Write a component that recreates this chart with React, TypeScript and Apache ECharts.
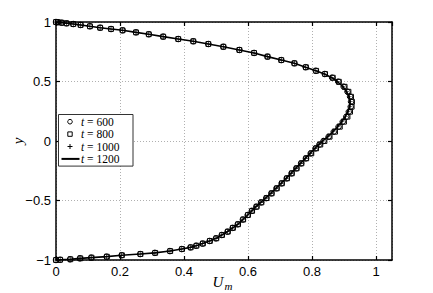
import React, { useEffect, useRef } from "react";
import * as echarts from "echarts";

const yPts = [1.0, 0.998, 0.994, 0.989, 0.983, 0.975, 0.964, 0.952, 0.941, 0.93, 0.913, 0.897, 0.877, 0.857, 0.838, 0.815, 0.792, 0.765, 0.74, 0.709, 0.68, 0.653, 0.62, 0.59, 0.563, 0.532, 0.498, 0.456, 0.414, 0.372, 0.33, 0.288, 0.246, 0.204, 0.162, 0.12, 0.078, 0.036, 0.0, -0.03, -0.062, -0.104, -0.146, -0.188, -0.23, -0.272, -0.314, -0.356, -0.398, -0.44, -0.48, -0.516, -0.552, -0.587, -0.622, -0.66, -0.7, -0.73, -0.762, -0.79, -0.818, -0.84, -0.862, -0.88, -0.894, -0.908, -0.925, -0.94, -0.95, -0.96, -0.972, -0.98, -0.986, -0.994, -0.998, -1.0];

const u1200 = [0.0, 0.006, 0.018, 0.033, 0.054, 0.077, 0.106, 0.138, 0.172, 0.208, 0.25, 0.29, 0.335, 0.382, 0.429, 0.476, 0.523, 0.573, 0.619, 0.661, 0.704, 0.745, 0.78, 0.812, 0.839, 0.862, 0.88, 0.897, 0.908, 0.916, 0.919, 0.918, 0.912, 0.904, 0.893, 0.88, 0.865, 0.849, 0.833, 0.821, 0.809, 0.794, 0.779, 0.764, 0.749, 0.734, 0.719, 0.703, 0.687, 0.671, 0.655, 0.64, 0.625, 0.612, 0.599, 0.584, 0.568, 0.552, 0.536, 0.518, 0.5, 0.48, 0.458, 0.438, 0.42, 0.393, 0.356, 0.309, 0.263, 0.205, 0.158, 0.11, 0.075, 0.044, 0.013, 0.0];

const u1000 = [0.0, 0.006, 0.018, 0.033, 0.054, 0.077, 0.106, 0.138, 0.172, 0.208, 0.25, 0.29, 0.335, 0.382, 0.429, 0.476, 0.523, 0.573, 0.619, 0.661, 0.704, 0.745, 0.78, 0.812, 0.839, 0.862, 0.88, 0.897, 0.909, 0.917, 0.92, 0.919, 0.913, 0.905, 0.894, 0.881, 0.866, 0.85, 0.834, 0.822, 0.81, 0.795, 0.78, 0.765, 0.75, 0.735, 0.72, 0.704, 0.688, 0.672, 0.656, 0.64, 0.625, 0.612, 0.599, 0.584, 0.568, 0.552, 0.536, 0.518, 0.5, 0.48, 0.458, 0.438, 0.42, 0.393, 0.356, 0.309, 0.263, 0.205, 0.158, 0.11, 0.075, 0.044, 0.013, 0.0];

const u800 = [0.0, 0.006, 0.018, 0.033, 0.054, 0.077, 0.106, 0.138, 0.172, 0.208, 0.25, 0.29, 0.335, 0.382, 0.429, 0.476, 0.523, 0.573, 0.619, 0.661, 0.704, 0.745, 0.781, 0.813, 0.841, 0.865, 0.884, 0.902, 0.914, 0.922, 0.925, 0.924, 0.919, 0.911, 0.9, 0.887, 0.872, 0.855, 0.839, 0.826, 0.813, 0.798, 0.782, 0.767, 0.752, 0.737, 0.722, 0.706, 0.69, 0.674, 0.658, 0.642, 0.627, 0.613, 0.6, 0.585, 0.569, 0.553, 0.537, 0.519, 0.501, 0.481, 0.459, 0.439, 0.421, 0.394, 0.357, 0.31, 0.264, 0.206, 0.159, 0.111, 0.076, 0.045, 0.013, 0.0];

const u600 = [0.0, 0.006, 0.018, 0.033, 0.054, 0.077, 0.106, 0.138, 0.172, 0.208, 0.25, 0.29, 0.335, 0.382, 0.429, 0.476, 0.523, 0.573, 0.619, 0.661, 0.704, 0.745, 0.78, 0.812, 0.84, 0.863, 0.882, 0.899, 0.911, 0.919, 0.922, 0.921, 0.915, 0.907, 0.896, 0.883, 0.868, 0.852, 0.836, 0.823, 0.811, 0.796, 0.781, 0.766, 0.751, 0.736, 0.721, 0.705, 0.689, 0.673, 0.657, 0.641, 0.626, 0.612, 0.599, 0.584, 0.568, 0.552, 0.536, 0.518, 0.5, 0.48, 0.458, 0.438, 0.42, 0.393, 0.356, 0.309, 0.263, 0.205, 0.158, 0.11, 0.075, 0.044, 0.013, 0.0];

const xTicks = [0, 0.2, 0.4, 0.6, 0.8, 1];
const legendLabels = ["600", "800", "1000", "1200"];

const PLUS = "path://M-0.14,-1H0.14V-0.14H1V0.14H0.14V1H-0.14V0.14H-1V-0.14H-0.14Z";

const pairs = (u: number[]) => u.map((v, i) => [v, yPts[i]]);
const fmt = (v: number) => {
  const r = Math.round(v * 100) / 100;
  const s = String(r);
  return s.replace("-", "\u2212");
};

const SERIF = "'Liberation Serif', 'DejaVu Serif', serif";
const SANS = "'Liberation Sans', Arial, Helvetica, sans-serif";

export default function App() {
  const ref = useRef<HTMLDivElement>(null);
  useEffect(() => {
    if (!ref.current) return;
    const chart = echarts.init(ref.current, null, { renderer: "svg" });
    const axisCommon = {
      type: "value" as const,
      axisLine: { show: true, onZero: false, lineStyle: { color: "#000", width: 1.5 } },
      axisTick: { show: true, inside: true, length: 4, lineStyle: { color: "#000", width: 1.2 } },
    };
    const top = 114.5;
    const lh = 12.4;
    const rowY = [0, 1, 2, 3].map((i) => top + 1 + lh * i + lh / 2);
    const legendGraphics: any[] = [
      {
        type: "rect",
        shape: { x: 58.5, y: top, width: 74.5, height: 4 * lh + 2 },
        style: { fill: "#fff", stroke: "#333", lineWidth: 1 },
        z: 100,
      },
      {
        type: "circle",
        shape: { cx: 70, cy: rowY[0], r: 2.3 },
        style: { fill: "none", stroke: "#000", lineWidth: 1 },
        z: 101,
      },
      {
        type: "rect",
        shape: { x: 67.8, y: rowY[1] - 2.2, width: 4.4, height: 4.4 },
        style: { fill: "none", stroke: "#000", lineWidth: 1 },
        z: 101,
      },
      {
        type: "line",
        shape: { x1: 67.5, y1: rowY[2], x2: 72.5, y2: rowY[2] },
        style: { stroke: "#000", lineWidth: 1 },
        z: 101,
      },
      {
        type: "line",
        shape: { x1: 70, y1: rowY[2] - 2.5, x2: 70, y2: rowY[2] + 2.5 },
        style: { stroke: "#000", lineWidth: 1 },
        z: 101,
      },
      {
        type: "line",
        shape: { x1: 61.5, y1: rowY[3], x2: 79.5, y2: rowY[3] },
        style: { stroke: "#000", lineWidth: 2 },
        z: 101,
      },
      ...legendLabels.map((lab, i) => ({
        type: "text",
        x: 81,
        y: rowY[i],
        z: 101,
        style: {
          text: `{i|t} = ${lab}`,
          fill: "#000",
          font: `11.5px ${SERIF}`,
          verticalAlign: "middle",
          align: "left",
          rich: {
            i: { fontStyle: "italic", fontFamily: SERIF, fontSize: 11.5, fill: "#000" },
          },
        },
      })),
      {
        type: "text",
        x: 18,
        y: 141,
        rotation: Math.PI / 2,
        style: {
          text: "y",
          font: `italic 15px ${SERIF}`,
          fill: "#000",
          align: "center",
          verticalAlign: "middle",
        },
      },
      {
        type: "text",
        x: 218,
        y: 282,
        style: {
          text: "U",
          font: `italic 15px ${SERIF}`,
          fill: "#000",
          align: "center",
          verticalAlign: "middle",
        },
      },
      {
        type: "text",
        x: 228.5,
        y: 286,
        style: {
          text: "m",
          font: `italic 11px ${SERIF}`,
          fill: "#000",
          align: "center",
          verticalAlign: "middle",
        },
      },
    ];

    chart.setOption({
      animation: false,
      backgroundColor: "#fff",
      grid: { left: 56, right: 41, top: 22, bottom: 33, containLabel: false },
      xAxis: [
        {
          ...axisCommon,
          position: "bottom",
          min: 0,
          max: 1.05,
          interval: 0.2,
          axisLabel: {
            show: true,
            margin: 5,
            color: "#000",
            fontSize: 13,
            fontFamily: SANS,
            showMaxLabel: false,
            formatter: (v: number) => (xTicks.some((t) => Math.abs(t - v) < 1e-6) ? fmt(v) : ""),
          },
          splitLine: { show: true, lineStyle: { color: "#b0b0b0", width: 1, type: [1, 2] } },
        },
        {
          ...axisCommon,
          position: "top",
          min: 0,
          max: 1.05,
          interval: 0.2,
          axisLabel: { show: false },
          splitLine: { show: false },
        },
      ],
      yAxis: [
        {
          ...axisCommon,
          position: "left",
          min: -1,
          max: 1,
          interval: 0.5,
          axisLabel: {
            show: true,
            margin: 5,
            color: "#000",
            fontSize: 13,
            fontFamily: SANS,
            formatter: (v: number) => fmt(v),
          },
          splitLine: { show: true, lineStyle: { color: "#b0b0b0", width: 1, type: [1, 2] } },
        },
        {
          ...axisCommon,
          position: "right",
          min: -1,
          max: 1,
          interval: 0.5,
          axisLabel: { show: false },
          splitLine: { show: false },
        },
      ],
      series: [
        {
          name: "t = 600",
          type: "line",
          data: pairs(u600),
          symbol: "circle",
          symbolSize: 5.5,
          itemStyle: { color: "rgba(0,0,0,0)", borderColor: "#000", borderWidth: 1 },
          lineStyle: { opacity: 0 },
          z: 2,
        },
        {
          name: "t = 800",
          type: "line",
          data: pairs(u800),
          symbol: "rect",
          symbolSize: 4.8,
          itemStyle: { color: "rgba(0,0,0,0)", borderColor: "#000", borderWidth: 1 },
          lineStyle: { opacity: 0 },
          z: 3,
        },
        {
          name: "t = 1000",
          type: "line",
          data: pairs(u1000),
          symbol: PLUS,
          symbolSize: 4.5,
          itemStyle: { color: "#000" },
          lineStyle: { opacity: 0 },
          z: 4,
        },
        {
          name: "t = 1200",
          type: "line",
          data: pairs(u1200),
          showSymbol: false,
          symbol: "none",
          lineStyle: { color: "#000", width: 1.6 },
          z: 5,
        },
      ],
      graphic: legendGraphics,
    });
    return () => chart.dispose();
  }, []);
  return <div ref={ref} style={{ width: 433, height: 293, position: "absolute", left: 0, top: 0 }} />;
}
